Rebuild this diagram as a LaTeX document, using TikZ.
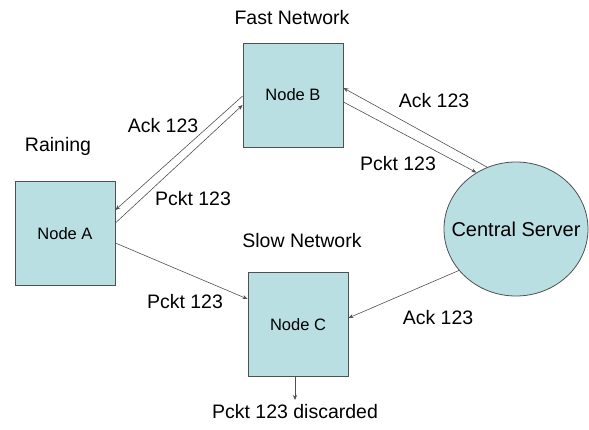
\documentclass[tikz,border=0pt]{standalone}
\usepackage{fontspec}
\setmainfont{Liberation Sans}
\usetikzlibrary{shapes.geometric,arrows.meta}
\definecolor{boxfill}{RGB}{185,223,227}
\definecolor{edgec}{RGB}{80,80,80}
\tikzset{
  box/.style={draw=edgec, fill=boxfill, line width=0.8pt, minimum width=100pt, minimum height=104pt, inner sep=0pt, font=\fontsize{16.5}{18}\selectfont},
  srv/.style={draw=edgec, fill=boxfill, line width=0.8pt, ellipse, minimum width=144pt, minimum height=134pt, inner sep=0pt, font=\fontsize{20}{22}\selectfont},
  conn/.style={draw=edgec, line width=0.6pt, -{Stealth[length=5pt,width=4pt]}},
  lbl/.style={font=\fontsize{19.5}{22}\selectfont, inner sep=0pt}
}
\begin{document}
\begin{tikzpicture}[x=1pt,y=-1pt]
\useasboundingbox (0,0) rectangle (589,429);
\node[box] (A) at (65,233.5) {Node A};
\node[box] (B) at (293,95) {Node B};
\node[box] (C) at (298,324.5) {Node C};
\node[srv] (S) at (516,229) {\makebox[0pt]{Central Server}};
\coordinate (D) at (295,400);
% connectors
\draw[conn] ([yshift=-1pt]B.west) -- (A.east |- 0,210);
\draw[conn] (A.east |- 0,223) -- (B.west |- 0,105);
\draw[conn] (S.115) -- (B.east |- 0,88);
\draw[conn] (B.east |- 0,102) -- (S.125);
\draw[conn] (A.east |- 0,243) -- (C.west |- 0,299);
\draw[conn] (S.216) -- (C.east |- 0,318);
\draw[conn] (C.south -| D) -- (D);
% labels
\node[lbl] (fast) at (292,18) {Fast Network};
\node[lbl] (rain) at (58,146) {Raining};
\node[lbl] (l1) at (163,126) {Ack 123};
\node[lbl] (l2) at (193,199) {Pckt 123};
\node[lbl] (l3) at (434,101) {Ack 123};
\node[lbl] (l4) at (398,164) {Pckt 123};
\node[lbl] (slow) at (302,241) {Slow Network};
\node[lbl] (l5) at (185,302) {Pckt 123};
\node[lbl] (l6) at (438,318) {Ack 123};
\node[lbl] (disc) at (295,412) {Pckt 123 discarded};
\end{tikzpicture}
\end{document}
